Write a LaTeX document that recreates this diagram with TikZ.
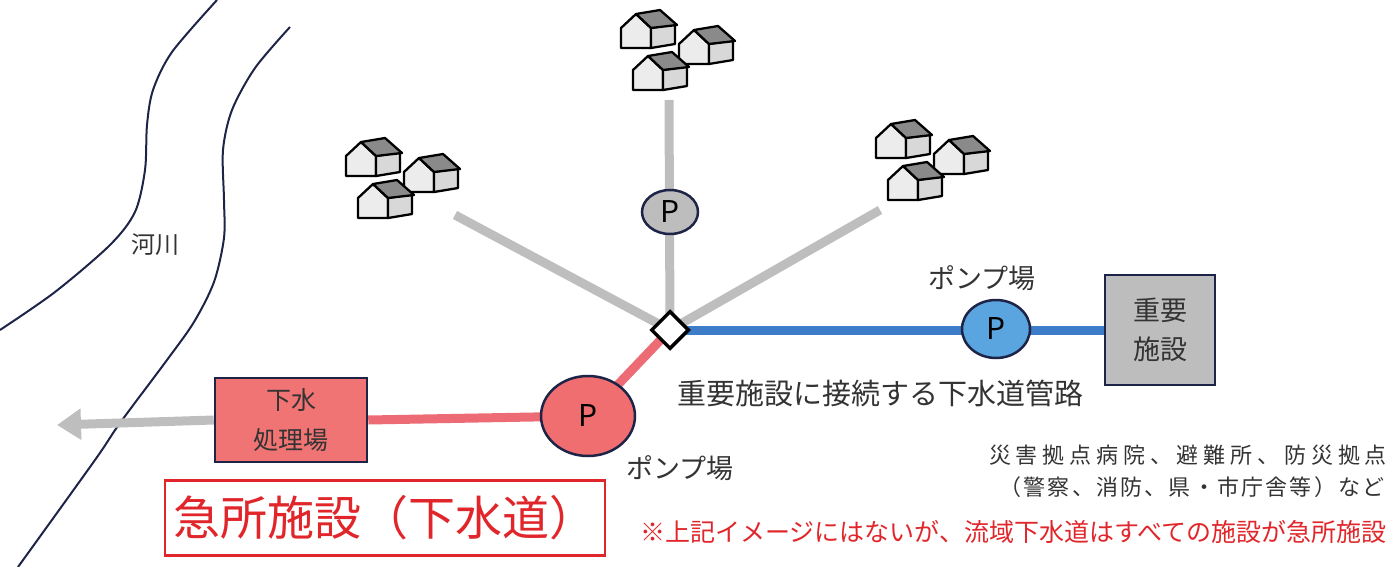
\documentclass[tikz,border=0pt]{standalone}
\usepackage{fontspec}
\setmainfont{Noto Sans CJK JP}
\usetikzlibrary{arrows.meta,positioning,shapes.geometric}

\definecolor{pipegray}{HTML}{BEBEBE}
\definecolor{pipered}{HTML}{EC6B74}
\definecolor{pipeblue}{HTML}{3D7CC9}
\definecolor{pumpblue}{HTML}{5AA5E0}
\definecolor{pumpred}{HTML}{F06E70}
\definecolor{boxred}{HTML}{F07474}
\definecolor{boxgray}{HTML}{BDBDBD}
\definecolor{edgenavy}{HTML}{1E2447}
\definecolor{textgray}{HTML}{333333}
\definecolor{notered}{HTML}{E0262A}
\definecolor{roofgray}{HTML}{8A8A8A}
\definecolor{frontgray}{HTML}{ECECEC}
\definecolor{sidegray}{HTML}{D8D8D8}

\pgfdeclarelayer{bg}
\pgfsetlayers{bg,main}

\tikzset{
  pump/.style={ellipse,draw=edgenavy,line width=2.5pt,inner sep=0pt,font=\fontsize{30}{30}\selectfont},
  facility/.style={rectangle,draw=edgenavy,line width=2.5pt,align=center,inner sep=0pt,text=textgray},
  junction/.style={diamond,draw=black,line width=3.5pt,fill=white,minimum size=38pt,inner sep=0pt},
  pipe/.style={line width=9pt},
  caption/.style={text=textgray,inner sep=0pt},
  bank/.style={draw=edgenavy,line width=2pt},
  bldg/.pic={
    \draw[line width=2.3pt,line join=round,fill=frontgray] (0,0) -- (0,-20) -- (15,-34) -- (30,-20) -- (30,0) -- cycle;
    \draw[line width=2.3pt,line join=round,fill=sidegray] (30,0) -- (30,-20) -- (54,-24) -- (54,-4) -- cycle;
    \draw[line width=2.3pt,line join=round,fill=roofgray] (15,-34) -- (39,-38) -- (56,-23) -- (30,-20) -- cycle;
  }
}

\begin{document}
\begin{tikzpicture}[x=1pt,y=-1pt]
  \useasboundingbox (0,0) rectangle (1399,567);

  % river banks
  \draw[bank] plot[smooth] coordinates {(0,330) (55,292) (110,245) (135,212) (145,170) (147,125) (153,90) (172,52) (217,0)};
  \draw[bank] plot[smooth] coordinates {(290,27) (255,68) (232,110) (223,150) (224,200) (224,238) (214,282) (194,322) (167,360) (120,423) (95,460) (18,567)};
  \node[caption,font=\fontsize{24}{24}\selectfont] (river) at (155,245) {河川};

  % housing clusters
  \foreach \hx/\hy in {346/176, 621/48, 876/158} {
    \pic at (\hx,\hy) {bldg};
    \pic at (\hx+58,\hy+16) {bldg};
    \pic at (\hx+12,\hy+42) {bldg};
  }

  % network nodes
  \node[junction] (jn) at (670,330) {};
  \coordinate (endL) at (455,215);
  \coordinate (endT) at (669,100);
  \coordinate (endR) at (880,210);
  \coordinate (outlet) at (57,425);
  \node[pump,fill=boxgray,minimum width=56pt,minimum height=44pt] (pg) at (670,212) {P};
  \node[pump,fill=pumpblue,minimum width=68pt,minimum height=58pt] (pb) at (996,329) {P};
  \node[pump,fill=pumpred,minimum width=94pt,minimum height=80pt] (pr) at (588,416) {P};
  \node[facility,fill=boxgray,minimum width=110pt,minimum height=110pt,
        font=\fontsize{27}{39}\selectfont] (imp) at (1160,330) {重要\\施設};
  \node[facility,fill=boxred,minimum width=152pt,minimum height=84pt,
        font=\fontsize{25}{40}\selectfont] (stp) at (291,420) {下水\\処理場};

  % pipes
  \begin{pgfonlayer}{bg}
    \draw[pipe,pipegray] (jn.center) -- (endL);
    \draw[pipe,pipegray] (jn.center) -- (endT);
    \draw[pipe,pipegray] (jn.center) -- (endR);
    \draw[pipe,pipeblue] (jn.center) -- (imp.west);
    \draw[pipe,pipered] (jn.center) -- (pr.center);
    \draw[pipe,pipered] (pr.center) -- (stp.east);
  \end{pgfonlayer}
  \draw[pipe,pipegray,-{Triangle[width=30pt,length=24pt]}] (stp.west) -- (outlet);

  % labels
  \node[caption,font=\fontsize{27}{27}\selectfont] (pbl) at (982,278) {ポンプ場};
  \node[caption,font=\fontsize{27}{27}\selectfont] (prl) at (680,468) {ポンプ場};
  \node[caption,font=\fontsize{29}{29}\selectfont] (pipel) at (880,393) {重要施設に接続する下水道管路};
  \node[caption,font=\fontsize{22}{22}\selectfont\addfontfeature{LetterSpace=22}] (impl) at (1188,455)
    {災害拠点病院、避難所、防災拠点};
  \node[caption,font=\fontsize{22}{22}\selectfont\addfontfeature{LetterSpace=10}] (impl2) at (1192,487)
    {（警察、消防、県・市庁舎等）など};

  % category box and note
  \node[draw=notered,line width=2.5pt,text=notered,minimum width=440pt,minimum height=75pt,
        font=\fontsize{47}{47}\selectfont] (cat) at (385,518) {急所施設（下水道）};
  \node[anchor=west,text=notered,inner sep=0pt,font=\fontsize{25}{25}\selectfont] (note) at (640,532)
    {※上記イメージにはないが、流域下水道はすべての施設が急所施設};
\end{tikzpicture}
\end{document}
